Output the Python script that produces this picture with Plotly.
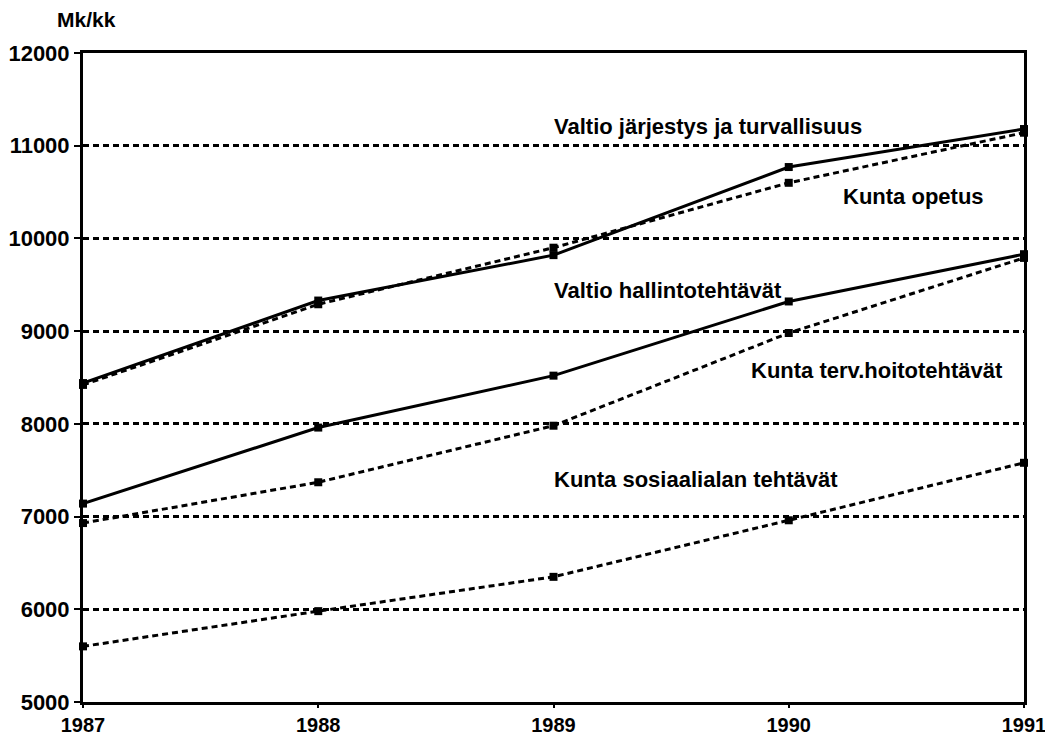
import plotly.graph_objects as go

years = [1987, 1988, 1989, 1990, 1991]
valtio_jarjestys = [8440, 9330, 9820, 10770, 11180]
kunta_opetus = [8420, 9290, 9900, 10600, 11140]
valtio_hallinto = [7140, 7960, 8520, 9320, 9830]
kunta_terv = [6930, 7370, 7980, 8980, 9790]
kunta_sos = [5600, 5980, 6350, 6960, 7580]
y_ticks = [5000, 6000, 7000, 8000, 9000, 10000, 11000, 12000]

series = [
    ("Valtio järjestys ja turvallisuus", valtio_jarjestys, "solid"),
    ("Kunta opetus", kunta_opetus, "6px,4px"),
    ("Valtio hallintotehtävät", valtio_hallinto, "solid"),
    ("Kunta terv.hoitotehtävät", kunta_terv, "6px,4px"),
    ("Kunta sosiaalialan tehtävät", kunta_sos, "6px,4px"),
]

labels = [
    ("Valtio järjestys ja turvallisuus", 1989, 11210),
    ("Kunta opetus", 1990.23, 10450),
    ("Valtio hallintotehtävät", 1989, 9440),
    ("Kunta terv.hoitotehtävät", 1989.84, 8580),
    ("Kunta sosiaalialan tehtävät", 1989, 7395),
]

FONT = "Liberation Sans, Arial, Helvetica"

fig = go.Figure()
for name, vals, dash in series:
    fig.add_trace(go.Scatter(
        x=years, y=vals, mode="lines+markers", name=name,
        line=dict(color="black", width=3, dash=dash),
        marker=dict(symbol="square", size=8, color="black"),
        showlegend=False, cliponaxis=False,
    ))

for text, x, y in labels:
    fig.add_annotation(x=x, y=y, text="<b>" + text + "</b>", showarrow=False,
                       xanchor="left", yanchor="middle", xshift=-2,
                       font=dict(size=22, color="black", family=FONT))

fig.add_annotation(x=0, y=1.0, xref="paper", yref="paper", text="<b>Mk/kk</b>",
                   showarrow=False, xanchor="left", yanchor="middle", xshift=-28, yshift=34,
                   font=dict(size=21, color="black", family=FONT))

fig.update_layout(
    width=1045, height=730,
    margin=dict(l=75, r=29, t=45, b=36),
    plot_bgcolor="white", paper_bgcolor="white",
    font=dict(family=FONT, size=22, color="black"),
    xaxis=dict(range=[1987, 1991], tickvals=years,
               ticktext=["<b>%d</b>" % y for y in years],
               showgrid=False, showline=True, linecolor="black", linewidth=3,
               mirror=True, ticks="outside", ticklen=3, tickwidth=2, tickcolor="black",
               zeroline=False, automargin=False, tickfont=dict(size=20)),
    yaxis=dict(range=[5000, 12000], tickvals=y_ticks,
               ticktext=["<b>%d</b>" % v for v in y_ticks],
               showgrid=True, gridcolor="black", gridwidth=2.5, griddash="6px,4px",
               showline=True, linecolor="black", linewidth=3, mirror=True,
               ticks="outside", ticklen=6, tickwidth=2, tickcolor="black",
               zeroline=False, automargin=False, tickfont=dict(size=22)),
)

fig.write_html("out.html")
